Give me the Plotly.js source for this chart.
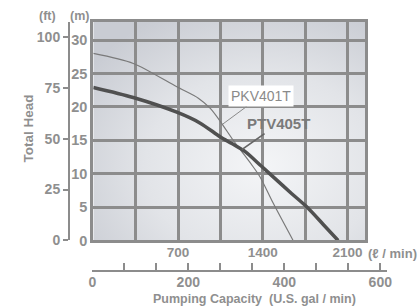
<!DOCTYPE html>
<html>
<head>
<meta charset="utf-8">
<script src="https://cdn.plot.ly/plotly-3.0.1.min.js"></script>
<style>html,body{margin:0;padding:0;background:#fff;}#chart{width:419px;height:307px;}</style>
</head>
<body>
<div id="chart"></div>
<script>
// Flow in litres per minute and total head in metres
const pkvFlow = [0, 331, 690, 868, 965, 1062, 1144, 1227, 1310, 1378, 1486, 1651];
const pkvHead = [28.0, 26.5, 23.0, 21.3, 19.8, 17.5, 15.3, 13.3, 11.3, 9.5, 5.6, 0];
const ptvFlow = [0, 330, 690, 880, 1050, 1145, 1255, 1390, 1500, 1640, 1765, 1900, 2023];
const ptvHead = [22.9, 21.4, 19.2, 17.6, 15.5, 14.5, 13.3, 11.1, 9.3, 7.0, 5.0, 2.4, 0];

const lpmTicks = [0, 350, 700, 1050, 1400, 1750, 2100];
const lpmLabels = ['', '', '700', '', '1400', '', '2100'];
const galTicks = [0, 200, 400, 600];
const galLabels = ['0', '200', '400', '600'];
const mTicks = [0, 5, 10, 15, 20, 25, 30];
const ftTicks = [0, 25, 50, 75, 100];

const labelNames = ['PKV401T', 'PTV405T'];

const M_MAX = 32.7;
const FT_PER_M = 3.28084;
const GRAY = '#8f8f8f';
const FONT = 'Liberation Sans, Arial, sans-serif';

const bgSvg = "<svg xmlns='http://www.w3.org/2000/svg' width='100' height='100' preserveAspectRatio='none'>" +
  "<defs><radialGradient id='g' cx='0.62' cy='0.66' r='0.78'>" +
  "<stop offset='0' stop-color='#f4f5f7'/><stop offset='0.55' stop-color='#e2e4e8'/><stop offset='1' stop-color='#c9ccd3'/>" +
  "</radialGradient></defs><rect width='100' height='100' fill='url(#g)'/></svg>";

const traces = [
  {x: pkvFlow, y: pkvHead, type: 'scatter', mode: 'lines', xaxis: 'x', yaxis: 'y',
   line: {color: '#7a7a7a', width: 1.2, shape: 'spline', smoothing: 0.8}, hoverinfo: 'skip'},
  {x: ptvFlow, y: ptvHead, type: 'scatter', mode: 'lines', xaxis: 'x', yaxis: 'y',
   line: {color: '#505050', width: 3.5, shape: 'spline', smoothing: 0.8}, hoverinfo: 'skip'},
  {x: [null], y: [null], type: 'scatter', mode: 'lines', xaxis: 'x', yaxis: 'y2', hoverinfo: 'skip'},
  {x: [null], y: [null], type: 'scatter', mode: 'lines', xaxis: 'x2', yaxis: 'y3', hoverinfo: 'skip'}
];

const tickFont = (s) => ({family: FONT, size: s, color: GRAY, weight: 'bold'});

const layout = {
  width: 419, height: 307,
  margin: {l: 30, r: 32, t: 10, b: 7, autoexpand: false},
  paper_bgcolor: '#ffffff',
  plot_bgcolor: 'rgba(0,0,0,0)',
  showlegend: false,
  hovermode: false,
  xaxis: {
    domain: [0.1773, 0.9384], range: [0, 2245], anchor: 'y', automargin: false,
    tickvals: lpmTicks, ticktext: lpmLabels, ticks: '',
    showgrid: true, gridcolor: '#8c8c8c', gridwidth: 3,
    showline: true, mirror: true, linecolor: '#8c8c8c', linewidth: 3,
    zeroline: false, tickfont: tickFont(13.5), ticklabelstandoff: -3
  },
  yaxis: {
    domain: [0.2052, 0.9586], range: [0, M_MAX], anchor: 'x', automargin: false,
    tickvals: mTicks, ticks: '',
    showgrid: true, gridcolor: '#8c8c8c', gridwidth: 3,
    showline: true, mirror: true, linecolor: '#8c8c8c', linewidth: 3,
    zeroline: false, tickfont: tickFont(14.5), ticklabelstandoff: 0
  },
  yaxis2: {
    overlaying: 'y', anchor: 'free', position: 0.1092, side: 'left', automargin: false,
    range: [0, M_MAX * FT_PER_M], tickvals: ftTicks,
    ticks: 'outside', ticklen: 5, tickwidth: 2, tickcolor: '#8c8c8c',
    showline: true, linecolor: '#8c8c8c', linewidth: 2.5,
    showgrid: false, zeroline: false, tickfont: tickFont(14)
  },
  xaxis2: {
    domain: [0.1745, 1.0], range: [0, 614], anchor: 'y3', automargin: false,
    tickvals: galTicks, ticktext: galLabels,
    ticks: 'inside', ticklen: 7, tickwidth: 2, tickcolor: '#8c8c8c',
    minor: {dtick: 200 / 3, tick0: 0, ticks: 'inside', ticklen: 7, tickwidth: 2, tickcolor: '#8c8c8c', showgrid: false},
    showline: true, linecolor: '#8c8c8c', linewidth: 2,
    showgrid: false, zeroline: false, tickfont: tickFont(14), ticklabelstandoff: -2
  },
  yaxis3: {domain: [0.1034, 0.131], anchor: 'x2', visible: false, range: [0, 1], automargin: false},
  images: [{
    source: 'data:image/svg+xml;charset=utf-8,' + encodeURIComponent(bgSvg),
    xref: 'x domain', yref: 'y domain', x: 0, y: 1, sizex: 1, sizey: 1,
    xanchor: 'left', yanchor: 'top', sizing: 'stretch', layer: 'below'
  }],
  annotations: [
    {xref: 'paper', yref: 'paper', x: 0.0504, y: 0.979, xanchor: 'center', yanchor: 'middle', text: '(ft)', showarrow: false,
     font: {family: FONT, size: 12.5, color: GRAY, weight: 'bold'}},
    {xref: 'paper', yref: 'paper', x: 0.14, y: 0.979, xanchor: 'center', yanchor: 'middle', text: '(m)', showarrow: false,
     font: {family: FONT, size: 12.5, color: GRAY, weight: 'bold'}},
    {xref: 'paper', yref: 'paper', x: -0.004, y: 0.59, xanchor: 'center', yanchor: 'middle', text: 'Total Head', textangle: -90, showarrow: false,
     font: {family: FONT, size: 13.5, color: GRAY, weight: 'bold'}},
    {xref: 'paper', yref: 'paper', x: 1.015, y: 0.162, xanchor: 'center', yanchor: 'middle', text: '(ℓ / min)', showarrow: false,
     font: {family: FONT, size: 13, color: GRAY, weight: 'bold'}},
    {xref: 'paper', yref: 'paper', x: 0.630, y: 0.003, xanchor: 'center', yanchor: 'middle', text: 'Pumping Capacity  (U.S. gal / min)', showarrow: false,
     font: {family: FONT, size: 12.5, color: GRAY, weight: 'bold'}},
    {xref: 'x', yref: 'y', x: 1068, y: 17.4, text: labelNames[0], showarrow: true, arrowhead: 0,
     arrowwidth: 1, arrowcolor: '#8a8a8a', ax: 38, ay: -28, bgcolor: '#ffffff', borderpad: 2,
     font: {family: FONT, size: 14, color: '#8a8a8a'}},
    {xref: 'x', yref: 'y', x: 1227, y: 13.6, text: labelNames[1], showarrow: true, arrowhead: 0,
     arrowwidth: 1.8, arrowcolor: '#666666', ax: 37, ay: -26,
     font: {family: FONT, size: 15, color: '#7a7a7a', weight: 'bold'}}
  ]
};

Plotly.newPlot('chart', traces, layout, {staticPlot: true, displayModeBar: false});
</script>
</body>
</html>
